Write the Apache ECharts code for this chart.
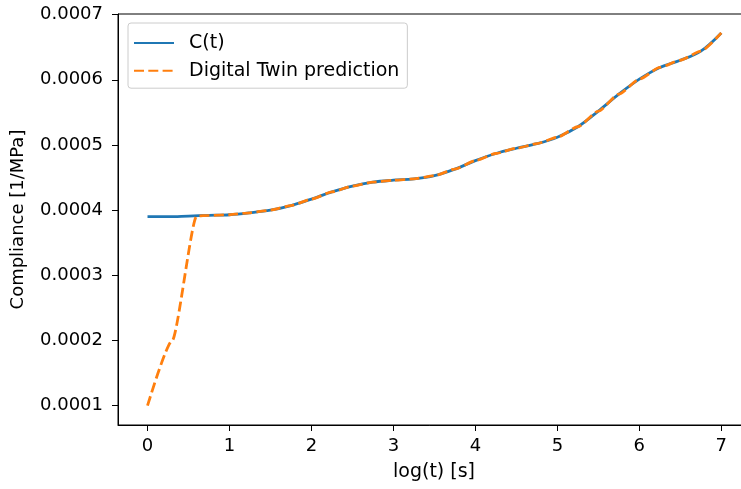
<!DOCTYPE html>
<html>
<head>
<meta charset="utf-8">
<script src="https://cdn.jsdelivr.net/npm/echarts@6/dist/echarts.min.js"></script>
<style>html,body{margin:0;padding:0;background:#fff}#c{width:741px;height:489px}</style>
</head>
<body>
<div id="c"></div>
<script>
// log(t) sample positions
const logT = [0, 0.25, 0.5, 0.75, 1.0, 1.25, 1.5, 1.75, 2.0, 2.25, 2.5, 2.75, 3.0, 3.25, 3.5, 3.75, 4.0, 4.25, 4.5, 4.75, 5.0, 5.25, 5.5, 5.75, 6.0, 6.25, 6.5, 6.75, 7.0];
// measured compliance C(t)
const compliance = [0.000390, 0.000390, 0.000391, 0.000392, 0.000393, 0.000396, 0.000400, 0.000407, 0.000417, 0.000428, 0.000437, 0.000443, 0.000446, 0.000448, 0.000453, 0.000463, 0.000476, 0.000487, 0.000495, 0.000502, 0.000512, 0.000528, 0.000552, 0.000578, 0.000601, 0.000619, 0.000630, 0.000644, 0.000672];
// digital twin prediction: early points then follows C(t)
const twinLogT = [0, 0.301, 0.6, 0.75, 1.0, 1.25, 1.5, 1.75, 2.0, 2.25, 2.5, 2.75, 3.0, 3.25, 3.5, 3.75, 4.0, 4.25, 4.5, 4.75, 5.0, 5.25, 5.5, 5.75, 6.0, 6.25, 6.5, 6.75, 7.0];
const twin = [0.000100, 0.000200, 0.000391, 0.000392, 0.000393, 0.000396, 0.000400, 0.000407, 0.000417, 0.000428, 0.000437, 0.000443, 0.000446, 0.000448, 0.000453, 0.000463, 0.000476, 0.000487, 0.000495, 0.000502, 0.000512, 0.000528, 0.000552, 0.000578, 0.000601, 0.000619, 0.000630, 0.000644, 0.000672];
const xTicks = [0, 1, 2, 3, 4, 5, 6, 7];
const yTicks = [0.0001, 0.0002, 0.0003, 0.0004, 0.0005, 0.0006, 0.0007];
const seriesNames = ['C(t)', 'Digital Twin prediction'];

const FONT = 'DejaVu Sans';
const FS = 18;
const chart = echarts.init(document.getElementById('c'), null, {renderer: 'canvas'});
chart.setOption({
  animation: false,
  backgroundColor: '#fff',
  textStyle: {fontFamily: FONT},
  grid: {left: 118, top: 14, width: 632, height: 411, show: true, borderColor: '#000', borderWidth: 1,
    containLabel: false, outerBoundsMode: 'none'},
  legend: {
    left: 128, top: 23, orient: 'vertical',
    data: seriesNames,
    itemWidth: 40, itemHeight: 18, itemGap: 8.7,
    padding: [10.5, 8, 8, 5],
    borderColor: '#cccccc', borderWidth: 1, borderRadius: 3,
    backgroundColor: 'rgba(255,255,255,0.8)',
    itemStyle: {opacity: 0},
    textStyle: {fontFamily: FONT, fontSize: 19, lineHeight: 18, color: '#000', padding: [0, 0, 0, 10]}
  },
  xAxis: {
    type: 'value', min: -0.36, max: 7.35,
    name: 'log(t) [s]', nameLocation: 'middle', nameGap: 38,
    nameTextStyle: {fontFamily: FONT, fontSize: 19, color: '#000'},
    axisLine: {show: true, onZero: false, lineStyle: {color: '#000', width: 1}},
    axisTick: {show: true, length: 6, inside: false, customValues: xTicks, lineStyle: {color: '#000'}},
    axisLabel: {customValues: xTicks, fontFamily: FONT, fontSize: FS, color: '#000', margin: 12},
    splitLine: {show: false}
  },
  yAxis: {
    type: 'value', min: 0.0000704, max: 0.000701,
    name: 'Compliance [1/MPa]', nameLocation: 'middle', nameGap: 91,
    nameTextStyle: {fontFamily: FONT, fontSize: FS, color: '#000'},
    axisLine: {show: true, onZero: false, lineStyle: {color: '#000', width: 1}},
    axisTick: {show: true, length: 6, customValues: yTicks, lineStyle: {color: '#000'}},
    axisLabel: {customValues: yTicks, fontFamily: FONT, fontSize: FS, color: '#000', margin: 15,
      formatter: v => v.toFixed(4)},
    splitLine: {show: false}
  },
  series: [
    {
      name: seriesNames[0], type: 'line', symbol: 'none', smooth: 0.35,
      data: logT.map((x, i) => [x, compliance[i]]),
      lineStyle: {color: '#1f77b4', width: 2.8},
      itemStyle: {color: '#1f77b4'}
    },
    {
      name: seriesNames[1], type: 'line', symbol: 'none', smooth: 0.2, smoothMonotone: 'x',
      data: twinLogT.map((x, i) => [x, twin[i]]),
      lineStyle: {color: '#ff7f0e', width: 2.8, type: [10, 4.3]},
      itemStyle: {color: '#ff7f0e'}
    }
  ]
});
</script>
</body>
</html>
